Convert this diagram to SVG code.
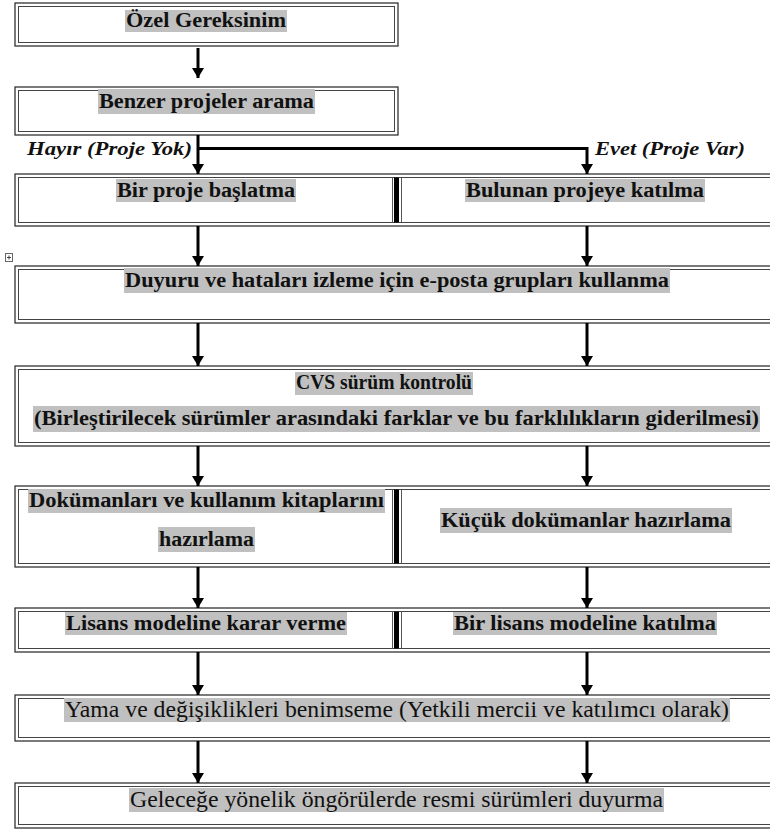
<svg xmlns="http://www.w3.org/2000/svg" width="770" height="832" viewBox="0 0 770 832">
<style>
.o{fill:none;stroke:#222;stroke-width:1.2}
.i{fill:none;stroke:#444;stroke-width:1}
.hl{fill:#c0c0c0}
.t{font-family:"Liberation Serif","Times New Roman",serif;font-weight:bold;font-size:20px;fill:#111}
.n{font-family:"Liberation Serif","Times New Roman",serif;font-size:23px;fill:#111}
.lb{font-family:"Liberation Serif","Times New Roman",serif;font-weight:bold;font-style:italic;font-size:18px;fill:#111}
.c{fill:none;stroke:#000;stroke-width:3}
.dv{stroke:#000;stroke-width:5}
.dt{stroke:#555;stroke-width:1}
</style>
<defs>
<marker id="ad" markerUnits="userSpaceOnUse" markerWidth="12" markerHeight="12" viewBox="-6 -11 12 12" refX="0" refY="0" orient="0">
<path d="M-6,-10 L6,-10 L0,0 Z" fill="#000"/>
</marker>
</defs>
<rect width="770" height="832" fill="#fff"/>

<g id="n1">
<rect class="o" x="15" y="3" width="383" height="43"/>
<rect class="i" x="18.5" y="6.5" width="376" height="36"/>
<rect class="hl" x="125" y="10" width="162" height="22"/>
<text class="t" x="206" y="27" text-anchor="middle" textLength="160" lengthAdjust="spacingAndGlyphs">Özel Gereksinim</text>
</g>

<g id="n2">
<rect class="o" x="15" y="87" width="383" height="48"/>
<rect class="i" x="18.5" y="90.5" width="376" height="41"/>
<rect class="hl" x="98" y="89" width="217" height="25"/>
<text class="t" x="206.5" y="108" text-anchor="middle" textLength="215" lengthAdjust="spacingAndGlyphs">Benzer projeler arama</text>
</g>

<g id="n3a">
<rect class="o" x="15" y="174" width="764" height="52"/>
<rect class="i" x="18.5" y="177.5" width="757" height="45"/>
<line class="dv" x1="396.5" y1="177.5" x2="396.5" y2="222.5"/>
<line class="dt" x1="392.5" y1="177.5" x2="392.5" y2="222.5"/>
<line class="dt" x1="401.5" y1="177.5" x2="401.5" y2="222.5"/>
<rect class="hl" x="116" y="179" width="180" height="23"/>
<text class="t" x="206" y="197" text-anchor="middle" textLength="178" lengthAdjust="spacingAndGlyphs">Bir proje başlatma</text>
</g>
<g id="n3b">
<rect class="hl" x="465" y="179" width="240" height="23"/>
<text class="t" x="585" y="197" text-anchor="middle" textLength="238" lengthAdjust="spacingAndGlyphs">Bulunan projeye katılma</text>
</g>

<g id="n4">
<rect class="o" x="15" y="266" width="764" height="57"/>
<rect class="i" x="18.5" y="269.5" width="757" height="50"/>
<rect class="hl" x="124" y="268" width="546" height="25"/>
<text class="t" x="397" y="287" text-anchor="middle" textLength="544" lengthAdjust="spacingAndGlyphs">Duyuru ve hataları izleme için e-posta grupları kullanma</text>
</g>

<g id="n5">
<rect class="o" x="15" y="366" width="764" height="80"/>
<rect class="i" x="18.5" y="369.5" width="757" height="73"/>
<rect class="hl" x="295" y="372" width="178" height="23"/>
<text class="t" x="384" y="389" text-anchor="middle" textLength="176" lengthAdjust="spacingAndGlyphs">CVS sürüm kontrolü</text>
<rect class="hl" x="33" y="406" width="727" height="26"/>
<text class="t" x="396.5" y="425" text-anchor="middle" textLength="725" lengthAdjust="spacingAndGlyphs">(Birleştirilecek sürümler arasındaki farklar ve bu farklılıkların giderilmesi)</text>
</g>

<g id="n6a">
<rect class="o" x="15" y="486" width="764" height="81"/>
<rect class="i" x="18.5" y="489.5" width="757" height="74"/>
<line class="dv" x1="396.5" y1="489.5" x2="396.5" y2="563.5"/>
<line class="dt" x1="392.5" y1="489.5" x2="392.5" y2="563.5"/>
<line class="dt" x1="401.5" y1="489.5" x2="401.5" y2="563.5"/>
<rect class="hl" x="28" y="489" width="357" height="24"/>
<text class="t" x="206.5" y="507" text-anchor="middle" textLength="355" lengthAdjust="spacingAndGlyphs">Dokümanları ve kullanım kitaplarını</text>
<rect class="hl" x="158" y="527" width="97" height="25"/>
<text class="t" x="206.5" y="546" text-anchor="middle" textLength="95" lengthAdjust="spacingAndGlyphs">hazırlama</text>
</g>
<g id="n6b">
<rect class="hl" x="440" y="508" width="292" height="25"/>
<text class="t" x="586" y="527" text-anchor="middle" textLength="290" lengthAdjust="spacingAndGlyphs">Küçük dokümanlar hazırlama</text>
</g>

<g id="n7a">
<rect class="o" x="15" y="608" width="764" height="44"/>
<rect class="i" x="18.5" y="611.5" width="757" height="37"/>
<line class="dv" x1="396.5" y1="611.5" x2="396.5" y2="648.5"/>
<line class="dt" x1="392.5" y1="611.5" x2="392.5" y2="648.5"/>
<line class="dt" x1="401.5" y1="611.5" x2="401.5" y2="648.5"/>
<rect class="hl" x="65" y="612" width="282" height="23"/>
<text class="t" x="206" y="630" text-anchor="middle" textLength="280" lengthAdjust="spacingAndGlyphs">Lisans modeline karar verme</text>
</g>
<g id="n7b">
<rect class="hl" x="453" y="612" width="264" height="23"/>
<text class="t" x="585" y="630" text-anchor="middle" textLength="262" lengthAdjust="spacingAndGlyphs">Bir lisans modeline katılma</text>
</g>

<g id="n8">
<rect class="o" x="15" y="695" width="764" height="46"/>
<rect class="i" x="18.5" y="698.5" width="757" height="39"/>
<rect class="hl" x="64" y="698" width="666" height="24"/>
<text class="n" x="397" y="717" text-anchor="middle" textLength="664" lengthAdjust="spacingAndGlyphs">Yama ve değişiklikleri benimseme (Yetkili mercii ve katılımcı olarak)</text>
</g>

<g id="n9">
<rect class="o" x="15" y="783" width="764" height="45"/>
<rect class="i" x="18.5" y="786.5" width="757" height="38"/>
<rect class="hl" x="129" y="788" width="535" height="24"/>
<text class="n" x="396.5" y="807" text-anchor="middle" textLength="533" lengthAdjust="spacingAndGlyphs">Geleceğe yönelik öngörülerde resmi sürümleri duyurma</text>
</g>

<g id="labels">
<text class="lb" x="192" y="155" text-anchor="end" textLength="165" lengthAdjust="spacingAndGlyphs">Hayır (Proje Yok)</text>
<text class="lb" x="595" y="155" textLength="150" lengthAdjust="spacingAndGlyphs">Evet (Proje Var)</text>
</g>

<g id="handle">
<rect x="5.5" y="253.5" width="7" height="8" fill="#fff" stroke="#666" stroke-width="1"/>
<path d="M7,257.5 H11 M9,255.5 V259.5" stroke="#444" stroke-width="1"/>
</g>

<g id="connectors">
<path class="c" d="M198,48 V78" marker-end="url(#ad)"/>
<path class="c" d="M198,135 V174" marker-end="url(#ad)"/>
<path class="c" d="M198,148.5 H587 V174" marker-end="url(#ad)"/>
<path class="c" d="M198,226 V266" marker-end="url(#ad)"/>
<path class="c" d="M587,226 V266" marker-end="url(#ad)"/>
<path class="c" d="M198,323 V366" marker-end="url(#ad)"/>
<path class="c" d="M587,323 V366" marker-end="url(#ad)"/>
<path class="c" d="M198,446 V486" marker-end="url(#ad)"/>
<path class="c" d="M587,446 V486" marker-end="url(#ad)"/>
<path class="c" d="M198,567 V608" marker-end="url(#ad)"/>
<path class="c" d="M587,567 V608" marker-end="url(#ad)"/>
<path class="c" d="M198,652 V695" marker-end="url(#ad)"/>
<path class="c" d="M587,652 V695" marker-end="url(#ad)"/>
<path class="c" d="M198,741 V783" marker-end="url(#ad)"/>
<path class="c" d="M587,741 V783" marker-end="url(#ad)"/>
</g>
</svg>
